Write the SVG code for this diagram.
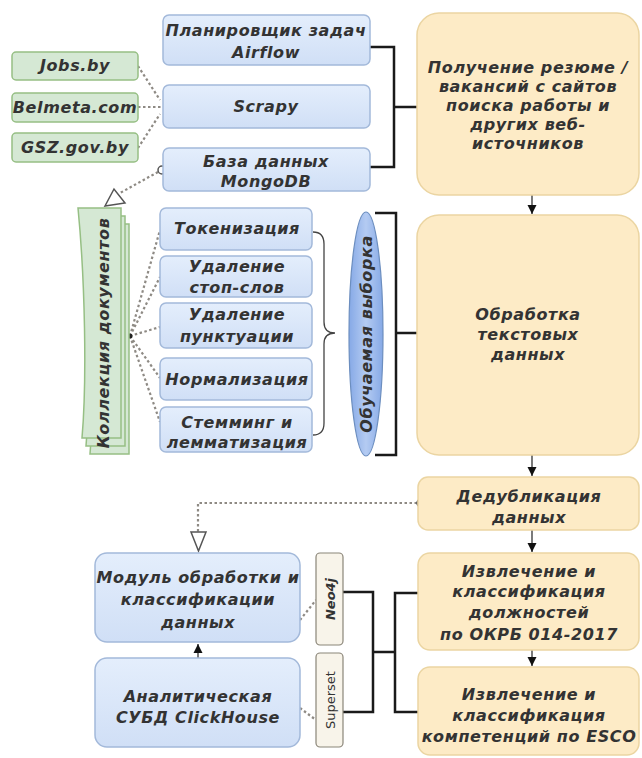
<svg xmlns="http://www.w3.org/2000/svg" width="642" height="758" viewBox="0 0 642 758">
<defs>
<marker id="ah" markerWidth="10" markerHeight="10" refX="9" refY="5" orient="auto" markerUnits="userSpaceOnUse"><path d="M0,0.5 L9,5 L0,9.5 Z" fill="#111"/></marker>
<linearGradient id="gb" x1="0" y1="0" x2="0" y2="1"><stop offset="0" stop-color="#e4eefc"/><stop offset="1" stop-color="#d0dff6"/></linearGradient>
<linearGradient id="go" x1="0" y1="0" x2="1" y2="0"><stop offset="0" stop-color="#86a9e6"/><stop offset="0.5" stop-color="#b4cbf2"/><stop offset="1" stop-color="#86a9e6"/></linearGradient>
</defs>
<style>
.t{font-family:"DejaVu Sans","Liberation Sans",sans-serif;font-weight:bold;font-style:italic;font-size:16px;letter-spacing:0.6px;fill:#333;text-anchor:middle}
.s{font-family:"DejaVu Sans","Liberation Sans",sans-serif;font-size:13px;fill:#333;text-anchor:middle}
.blue{fill:url(#gb);stroke:#a3b9da;stroke-width:1.5}
.green{fill:#d5e8d4;stroke:#96bf84;stroke-width:1.5}
.yel{fill:#fdebc6;stroke:#ebd5a2;stroke-width:1.5}
.tag{fill:#f8f4ea;stroke:#8a8578;stroke-width:1.2}
.dot{fill:none;stroke:#8e8a84;stroke-width:2.2;stroke-dasharray:2.5 2.5}
.br{fill:none;stroke:#1a1a1a;stroke-width:2.5}
.ar{fill:none;stroke:#222;stroke-width:1.2;marker-end:url(#ah)}
.hol{fill:#fff;stroke:#555;stroke-width:1.5}
</style>

<g id="connectors">
<path class="dot" d="M138,66 L160,100"/>
<path class="dot" d="M138,107 L163,107"/>
<path class="dot" d="M138,148 L160,114"/>
<path class="dot" d="M158,172 L120,193"/>
<circle class="hol" cx="162" cy="170" r="4"/>
<polygon class="hol" points="114,189 105,206 125,203"/>
<path class="dot" d="M130,336 L160,230 M130,336 L160,277 M130,336 L160,327 M130,336 L160,378 M130,336 L160,422"/>
<circle cx="130" cy="336" r="2.5" fill="#222"/>
<path d="M313,232 Q324,232 324,244 V322 Q324,333 335,333 Q324,333 324,344 V423 Q324,435 313,435" fill="none" stroke="#444" stroke-width="1.3"/>
<path class="br" d="M370,47 H394 V167 H370 M394,107 H418"/>
<path class="br" d="M375,213 H396 V455 H375 M396,333 H417"/>
<path class="ar" d="M532,195 V214"/>
<path class="ar" d="M532,455 V476"/>
<path class="ar" d="M532,530 V552"/>
<path class="ar" d="M532,650 V666"/>
<path class="dot" d="M417,503 H198 V532"/>
<circle class="hol" cx="421" cy="503" r="4"/>
<polygon class="hol" points="191,532 206,532 198.5,551"/>
<path class="ar" d="M198,658 V644"/>
<path class="dot" d="M300,620 L316,600"/>
<path class="dot" d="M300,708 L316,720"/>
<path class="br" d="M343,592 H373 V712 H343 M373,652 H395 M418,593 H395 V712 H418"/>
</g>

<g id="airflow"><rect class="blue" x="163" y="15" width="207" height="50" rx="6"/><text class="t" x="266" y="36">Планировщик задач</text><text class="t" x="266" y="58">Airflow</text></g>
<g id="scrapy"><rect class="blue" x="163" y="85" width="207" height="43" rx="6"/><text class="t" x="266" y="112">Scrapy</text></g>
<g id="mongodb"><rect class="blue" x="163" y="148" width="207" height="43" rx="6"/><text class="t" x="266" y="167">База данных</text><text class="t" x="266" y="187">MongoDB</text></g>

<g id="jobs"><rect class="green" x="12" y="52" width="126" height="28" rx="4"/><text class="t" x="75" y="71">Jobs.by</text></g>
<g id="belmeta"><rect class="green" x="12" y="93" width="126" height="29" rx="4"/><text class="t" x="75" y="113">Belmeta.com</text></g>
<g id="gsz"><rect class="green" x="12" y="133" width="126" height="29" rx="4"/><text class="t" x="75" y="153">GSZ.gov.by</text></g>

<g id="collection">
<path class="green" transform="translate(8,16)" d="M78,208 H121 V438 H82 C87,380 85,280 78,208 Z"/>
<path class="green" transform="translate(4,8)" d="M78,208 H121 V438 H82 C87,380 85,280 78,208 Z"/>
<path class="green" d="M78,208 H121 V438 H82 C87,380 85,280 78,208 Z"/>
<text class="t" transform="translate(109,333) rotate(-90)">Коллекция документов</text>
</g>

<g id="tokenization"><rect class="blue" x="160" y="208" width="152" height="42" rx="6"/><text class="t" x="237" y="234">Токенизация</text></g>
<g id="stopwords"><rect class="blue" x="160" y="256" width="152" height="41" rx="6"/><text class="t" x="237" y="272">Удаление</text><text class="t" x="237" y="293">стоп-слов</text></g>
<g id="punctuation"><rect class="blue" x="160" y="303" width="152" height="45" rx="6"/><text class="t" x="237" y="320">Удаление</text><text class="t" x="237" y="342">пунктуации</text></g>
<g id="normalization"><rect class="blue" x="160" y="358" width="152" height="42" rx="6"/><text class="t" x="237" y="385">Нормализация</text></g>
<g id="stemming"><rect class="blue" x="160" y="407" width="152" height="45" rx="6"/><text class="t" x="237" y="428">Стемминг и</text><text class="t" x="237" y="448">лемматизация</text></g>

<g id="training"><ellipse cx="366" cy="334" rx="17" ry="122" fill="url(#go)" stroke="#6c8ebf" stroke-width="1.2"/><text class="t" transform="translate(371.5,334) rotate(-90)">Обучаемая выборка</text></g>

<g id="fetch"><rect class="yel" x="417" y="13" width="222" height="182" rx="22"/>
<text class="t" x="528" y="73">Получение резюме /</text><text class="t" x="528" y="92">вакансий  с сайтов</text><text class="t" x="528" y="111">поиска работы и</text><text class="t" x="528" y="130">других веб-</text><text class="t" x="528" y="149">источников</text></g>
<g id="textproc"><rect class="yel" x="417" y="215" width="222" height="240" rx="22"/>
<text class="t" x="528" y="320">Обработка</text><text class="t" x="528" y="340">текстовых</text><text class="t" x="528" y="360">данных</text></g>
<g id="dedup"><rect class="yel" x="418" y="477" width="221" height="53" rx="10"/><text class="t" x="529" y="502">Дедубликация</text><text class="t" x="529" y="523">данных</text></g>
<g id="extract1"><rect class="yel" x="418" y="553" width="221" height="97" rx="12"/><text class="t" x="529" y="577">Извлечение и</text><text class="t" x="529" y="597">классификация</text><text class="t" x="529" y="618">должностей</text><text class="t" x="529" y="640">по ОКРБ 014-2017</text></g>
<g id="extract2"><rect class="yel" x="418" y="667" width="221" height="88" rx="12"/><text class="t" x="529" y="700">Извлечение и</text><text class="t" x="529" y="721">классификация</text><text class="t" x="529" y="742">компетенций по ESCO</text></g>

<g id="module"><rect class="blue" x="95" y="553" width="205" height="89" rx="12"/><text class="t" x="198" y="583">Модуль обработки и</text><text class="t" x="198" y="605">классификации</text><text class="t" x="198" y="628">данных</text></g>
<g id="clickhouse"><rect class="blue" x="95" y="658" width="205" height="89" rx="12"/><text class="t" x="198" y="702">Аналитическая</text><text class="t" x="198" y="723">СУБД ClickHouse</text></g>
<g id="neo4j"><rect class="tag" x="316" y="553" width="27" height="92" rx="4"/><text class="t" style="font-size:13px;letter-spacing:0" transform="translate(334.5,599) rotate(-90)">Neo4j</text></g>
<g id="superset"><rect class="tag" x="316" y="653" width="27" height="94" rx="4"/><text class="s" transform="translate(334.5,700) rotate(-90)">Superset</text></g>
</svg>
